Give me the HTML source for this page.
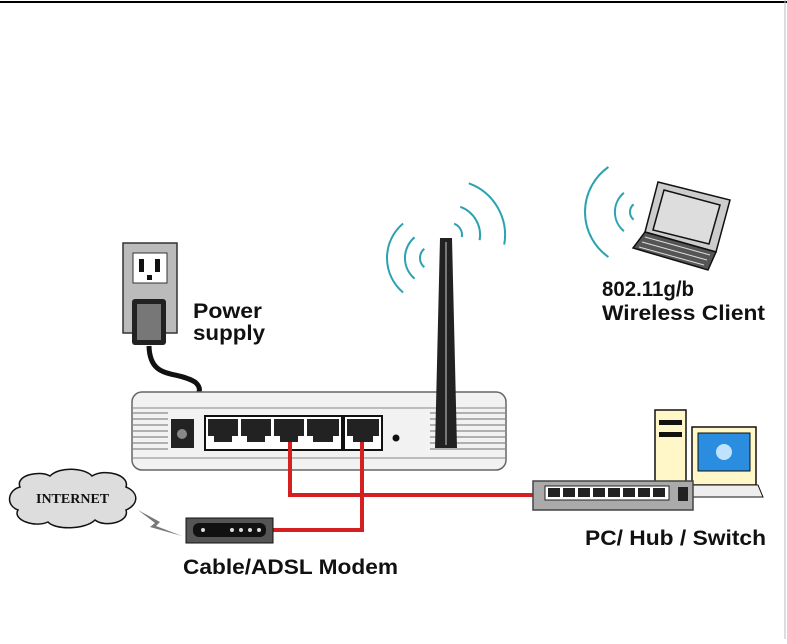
<!DOCTYPE html>
<html><head><style>
body{margin:0;background:#fff;width:787px;height:639px;overflow:hidden}
text{font-family:"Liberation Sans",Arial,sans-serif;font-weight:bold;fill:#111}
</style></head><body>
<svg width="787" height="639" viewBox="0 0 787 639">
<line x1="0" y1="2" x2="787" y2="2" stroke="#000" stroke-width="2"/>
<line x1="785" y1="0" x2="785" y2="639" stroke="#bbb" stroke-width="1"/>
<!-- waves -->
<g fill="none" stroke="#2aa3b0" stroke-width="2">
<path d="M424.3 248.8 A12 12 0 0 0 424.3 267.2"/>
<path d="M414.6 237.3 A27 27 0 0 0 414.6 278.7"/>
<path d="M403.1 223.5 A45 45 0 0 0 403.1 292.5"/>
<path d="M454.1 223.7 A12 12 0 0 1 461.8 237.1"/>
<path d="M460.3 206.8 A30 30 0 0 1 479.6 240.2"/>
<path d="M468.8 183.3 A55 55 0 0 1 504.2 244.6"/>
<path d="M633.6 204.3 A10 10 0 0 0 633.6 219.7"/>
<path d="M623.9 192.8 A25 25 0 0 0 623.9 231.2"/>
<path d="M608.4 167 A55 55 0 0 0 608.4 257"/>
</g>
<!-- laptop -->
<g stroke="#111" stroke-width="1.5">
<polygon points="658,182 730,200 716,252 645,232" fill="#ccc"/>
<polygon points="664,190 720,205 709,244 653,230" fill="#ddd"/>
<polygon points="645,232 716,252 708,270 633,248" fill="#555"/>
</g>
<g stroke="#ddd" stroke-width="1"><line x1="645" y1="237" x2="710" y2="255"/><line x1="642" y1="242" x2="707" y2="260"/><line x1="639" y1="247" x2="704" y2="265"/></g>
<!-- outlet -->
<rect x="123" y="243" width="54" height="90" fill="#bbb" stroke="#333" stroke-width="1.5"/>
<rect x="133" y="253" width="34" height="30" fill="#fff" stroke="#333"/>
<rect x="139" y="259" width="5" height="13" fill="#111"/><rect x="155" y="259" width="5" height="13" fill="#111"/><rect x="147" y="275" width="5" height="5" fill="#111"/>
<rect x="132" y="299" width="34" height="46" rx="3" fill="#222"/>
<rect x="137" y="304" width="24" height="36" fill="#777"/>
<path d="M149 346 C150 380,175 370,195 382 C210 395,182 400,184 425" fill="none" stroke="#111" stroke-width="5"/>
<!-- router -->
<rect x="132" y="392" width="374" height="78" rx="10" fill="#f2f2f2" stroke="#666" stroke-width="1.5"/>
<g stroke="#999" stroke-width="1.5">
<line x1="133" y1="413" x2="168" y2="413"/><line x1="133" y1="419" x2="168" y2="419"/><line x1="133" y1="425" x2="168" y2="425"/><line x1="133" y1="431" x2="168" y2="431"/><line x1="133" y1="437" x2="168" y2="437"/><line x1="133" y1="443" x2="168" y2="443"/><line x1="133" y1="449" x2="168" y2="449"/>
<line x1="430" y1="413" x2="505" y2="413"/><line x1="430" y1="419" x2="505" y2="419"/><line x1="430" y1="425" x2="505" y2="425"/><line x1="430" y1="431" x2="505" y2="431"/><line x1="430" y1="437" x2="505" y2="437"/><line x1="430" y1="443" x2="505" y2="443"/><line x1="430" y1="449" x2="505" y2="449"/>
</g>
<line x1="132" y1="408" x2="506" y2="408" stroke="#888"/><line x1="132" y1="458" x2="506" y2="458" stroke="#888"/>
<rect x="171" y="419" width="23" height="29" fill="#222"/><circle cx="182" cy="434" r="5" fill="#888"/>
<rect x="205" y="416" width="137" height="34" fill="#fff" stroke="#111" stroke-width="2"/>
<g fill="#222">
<path d="M208 419h30v17h-6v6h-18v-6h-6z"/><path d="M241 419h30v17h-6v6h-18v-6h-6z"/><path d="M274 419h30v17h-6v6h-18v-6h-6z"/><path d="M307 419h32v17h-6v6h-20v-6h-6z"/>
</g>
<rect x="344" y="416" width="38" height="34" fill="#fff" stroke="#111" stroke-width="2"/>
<path d="M347 419h32v17h-6v6h-20v-6h-6z" fill="#222"/>
<circle cx="396" cy="438" r="3.5" fill="#111"/>
<polygon points="440,238 452,238 457,448 435,448" fill="#222"/>
<line x1="446" y1="242" x2="446" y2="445" stroke="#777" stroke-width="2"/>
<!-- red cables -->
<g fill="none" stroke="#d42020" stroke-width="4">
<path d="M290 442 V495 H535"/><path d="M362 442 V530 H273"/>
</g>
<!-- cloud -->
<path d="M20 487 C15 475,40 470,50 476 C60 466,85 468,92 476 C105 468,130 475,126 487 C140 493,138 505,126 510 C130 522,105 528,95 520 C85 530,55 530,48 522 C35 528,12 520,18 510 C5 505,8 490,20 487Z" fill="#ddd" stroke="#111" stroke-width="1.5"/>
<text x="36" y="503" style="font-family:'Liberation Serif',serif" font-size="14">INTERNET</text>
<polygon points="138,510 160,522 156,526 182,536 150,527 155,523" fill="#777"/>
<!-- modem -->
<rect x="186" y="518" width="87" height="25" fill="#555" stroke="#111"/>
<rect x="193" y="523" width="73" height="14" rx="6" fill="#111"/>
<g fill="#ddd"><circle cx="203" cy="530" r="2"/><circle cx="232" cy="530" r="2"/><circle cx="241" cy="530" r="2"/><circle cx="250" cy="530" r="2"/><circle cx="259" cy="530" r="2"/></g>
<!-- PC -->
<rect x="655" y="410" width="31" height="72" fill="#fff7c8" stroke="#111" stroke-width="1.5"/>
<rect x="659" y="420" width="23" height="5" fill="#111"/><rect x="659" y="432" width="23" height="5" fill="#111"/>
<rect x="692" y="427" width="64" height="58" fill="#fff7c8" stroke="#111" stroke-width="1.5"/>
<rect x="698" y="433" width="52" height="38" fill="#2a8de0" stroke="#111"/>
<circle cx="724" cy="452" r="8" fill="#bfe3ff"/>
<polygon points="690,485 758,485 763,497 688,497" fill="#eee" stroke="#111"/>
<!-- switch -->
<rect x="533" y="481" width="160" height="29" fill="#aaa" stroke="#444" stroke-width="1.5"/>
<rect x="545" y="486" width="124" height="14" fill="#fff" stroke="#222"/>
<g fill="#222">
<rect x="548" y="488" width="12" height="9"/><rect x="563" y="488" width="12" height="9"/><rect x="578" y="488" width="12" height="9"/><rect x="593" y="488" width="12" height="9"/><rect x="608" y="488" width="12" height="9"/><rect x="623" y="488" width="12" height="9"/><rect x="638" y="488" width="12" height="9"/><rect x="653" y="488" width="12" height="9"/>
<rect x="678" y="487" width="10" height="14"/>
</g>
<!-- labels -->
<text x="193" y="318" font-size="21" textLength="69" lengthAdjust="spacingAndGlyphs">Power</text>
<text x="193" y="340" font-size="21" textLength="72" lengthAdjust="spacingAndGlyphs">supply</text>
<text x="602" y="296" font-size="21" textLength="92" lengthAdjust="spacingAndGlyphs">802.11g/b</text>
<text x="602" y="320" font-size="21" textLength="163" lengthAdjust="spacingAndGlyphs">Wireless Client</text>
<text x="585" y="545" font-size="21" textLength="181" lengthAdjust="spacingAndGlyphs">PC/ Hub / Switch</text>
<text x="183" y="574" font-size="21" textLength="215" lengthAdjust="spacingAndGlyphs">Cable/ADSL Modem</text>
</svg>
</body></html>
